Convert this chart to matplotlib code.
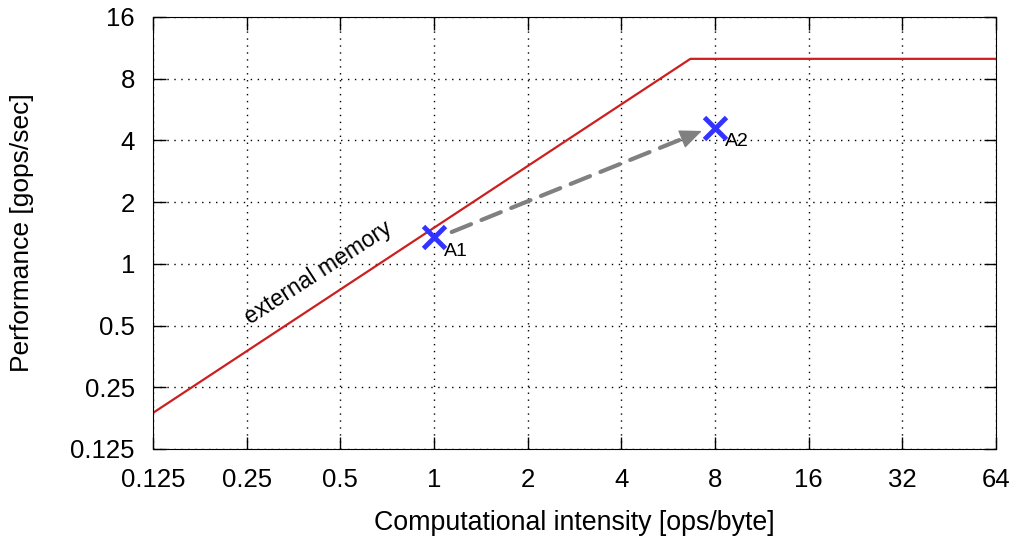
import numpy as np
import matplotlib.pyplot as plt

plt.rcParams['font.family'] = ['Liberation Sans', 'DejaVu Sans']

# roofline: bandwidth 1.5 bytes->ops, peak 10 gops/sec
roof_x = [0.125, 6.667, 64]
roof_y = [0.1875, 10.0, 10.0]

points = ['A1', 'A2']
pt_x = [1.0, 8.0]
pt_y = [1.35, 4.6]

# arrow from A1 towards A2
arrow_start = (1.14, 1.43)
arrow_end = (7.26, 4.45)

ticks = [0.125, 0.25, 0.5, 1, 2, 4, 8, 16, 32, 64]
tick_labels = ['0.125', '0.25', '0.5', '1', '2', '4', '8', '16', '32', '64']
yticks = [0.125, 0.25, 0.5, 1, 2, 4, 8, 16]
ytick_labels = ['0.125', '0.25', '0.5', '1', '2', '4', '8', '16']

fig = plt.figure(figsize=(10.22, 5.36), dpi=100)
ax = fig.add_axes([153 / 1022, 87 / 536, 843 / 1022, 432 / 536])

ax.set_xscale('log', base=2)
ax.set_yscale('log', base=2)
ax.set_xlim(0.125, 64)
ax.set_ylim(0.125, 16)

ax.plot(roof_x, roof_y, color='#cc1f1f', lw=1.6)

ax.plot(pt_x, pt_y, linestyle='none', marker='x', color='#3333ff',
        markersize=16, markeredgewidth=3.5)
for name, x, y in zip(points, pt_x, pt_y):
    ax.annotate(name, (x, y), xytext=(7, -10), textcoords='offset points',
                fontsize=14, ha='left', va='center')

# dashed shaft, then a solid head at its end
ax.annotate('', xy=arrow_end, xytext=arrow_start,
            arrowprops=dict(arrowstyle='-', color='#808080', lw=3,
                            linestyle=(0, (5, 2.7)), shrinkA=0, shrinkB=12))
lx0, ly0 = np.log2(arrow_start)
lx1, ly1 = np.log2(arrow_end)
head_from = (2 ** (lx0 + 0.93 * (lx1 - lx0)), 2 ** (ly0 + 0.93 * (ly1 - ly0)))
ax.annotate('', xy=arrow_end, xytext=head_from,
            arrowprops=dict(arrowstyle='-|>,head_length=1.4,head_width=0.6',
                            color='#808080', lw=1, shrinkA=0, shrinkB=0))

ax.text(0.425, 0.9, 'external memory', fontsize=16.5, rotation=33,
        rotation_mode='anchor', ha='center', va='center')

ax.set_xticks(ticks)
ax.set_xticklabels(tick_labels)
ax.set_yticks(yticks)
ax.set_yticklabels(ytick_labels)
ax.minorticks_off()
ax.tick_params(direction='in', length=9, width=1, top=True, right=True,
               labelsize=18.5)
ax.tick_params(axis='x', pad=14)
ax.tick_params(axis='y', pad=13)
ax.grid(True, linestyle=(0, (1, 4)), color='black', lw=1)

ax.set_xlabel('Computational intensity [ops/byte]', fontsize=19.3, labelpad=13)
ax.set_ylabel('Performance [gops/sec]', fontsize=19, labelpad=26)

fig.savefig('out.png', dpi=100)
